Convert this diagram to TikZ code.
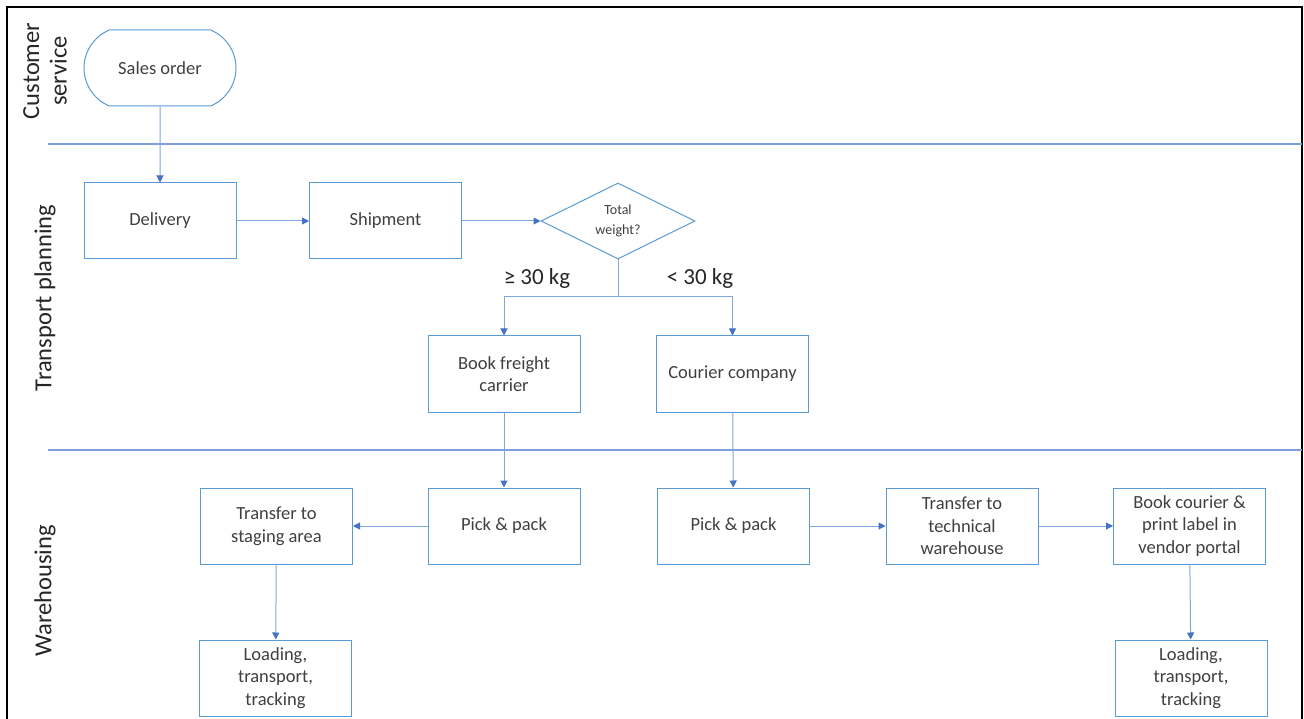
\documentclass[tikz,border=0pt]{standalone}
\usepackage{fontspec}
\setmainfont{Carlito}
\usetikzlibrary{arrows.meta,shapes.geometric,shapes.misc}
\definecolor{boxblue}{HTML}{5B9BD5}
\definecolor{arrblue}{HTML}{4472C4}
\definecolor{linecol}{HTML}{7FA7DD}
\definecolor{lanecol}{HTML}{7F9FDC}
\definecolor{txt}{HTML}{404040}
\begin{document}
\begin{tikzpicture}[x=1pt,y=-1pt,
  proc/.style={draw=boxblue, line width=1pt, minimum width=152pt, minimum height=76pt,
    align=center, text=txt, font=\fontsize{18.5}{22.5}\selectfont, inner sep=0pt},
  term/.style={proc, rounded rectangle, rounded rectangle arc length=135},
  dec/.style={draw=boxblue, line width=1pt, diamond, aspect=2, minimum width=154pt,
    minimum height=76pt, inner sep=0pt, align=center, text=txt, font=\fontsize{14}{19.5}\selectfont},
  flow/.style={draw=linecol, line width=1pt, -{Triangle[length=7pt,width=7pt,color=arrblue]}},
  plain/.style={draw=linecol, line width=1pt},
  lane/.style={draw=lanecol, line width=1.5pt},
  lanelabel/.style={rotate=90, align=center, text=black!85, font=\fontsize{24.5}{27.5}\selectfont},
  cond/.style={text=black!85, font=\fontsize{23}{27}\selectfont}
]
\useasboundingbox (0,0) rectangle (1304,719);
\clip (0,0) rectangle (1304,719);
\fill[white] (0,0) rectangle (1304,719);
% frame
\draw[black, line width=2pt] (7,740) -- (7,7) -- (1302,7) -- (1302,740);
% lanes
\draw[lane] (48,144) -- (1302,144);
\draw[lane] (48,450) -- (1302,450);
\node[lanelabel] (l1) at (45,71) {Customer\\service};
\node[lanelabel] (l2) at (45,298) {Transport planning};
\node[lanelabel] (l3) at (45,591) {Warehousing};
% nodes
\node[term] (so) at (160,68) {Sales order};
\node[proc] (del) at (160,221) {Delivery};
\node[proc] (shp) at (385.5,221) {Shipment};
\node[dec] (dia) at (618,221) {Total\\weight?};
\node[proc] (bfc) at (504,374) {Book freight\\carrier};
\node[proc] (cc) at (732.5,374) {Courier company};
\node[proc] (pp1) at (504,526) {Pick \& pack};
\node[proc] (pp2) at (733.5,526) {Pick \& pack};
\node[proc] (stg) at (276.5,526) {Transfer to\\staging area};
\node[proc] (ld1) at (275.5,678) {Loading,\\transport,\\tracking};
\node[proc] (ttw) at (962,526) {Transfer to\\technical\\warehouse};
\node[proc] (bcp) at (1189.5,526) {Book courier \&\\print label in\\vendor portal};
\node[proc] (ld2) at (1191,678) {Loading,\\transport,\\tracking};
\node[cond] (c1) at (537,278) {≥ 30 kg};
\node[cond] (c2) at (700,278) {< 30 kg};
\coordinate (split) at (618,297);
% connectors
\draw[flow] (so) -- (del);
\draw[flow] (del) -- (shp);
\draw[flow] (shp) -- (dia);
\draw[plain] (dia.south) -- (split);
\draw[flow] (split) -| (bfc);
\draw[flow] (split) -| (cc);
\draw[flow] (bfc) -- (pp1);
\draw[flow] (cc) -- (pp2);
\draw[flow] (pp1) -- (stg);
\draw[flow] (stg) -- (ld1);
\draw[flow] (pp2) -- (ttw);
\draw[flow] (ttw) -- (bcp);
\draw[flow] (bcp) -- (ld2);
\end{tikzpicture}
\end{document}
